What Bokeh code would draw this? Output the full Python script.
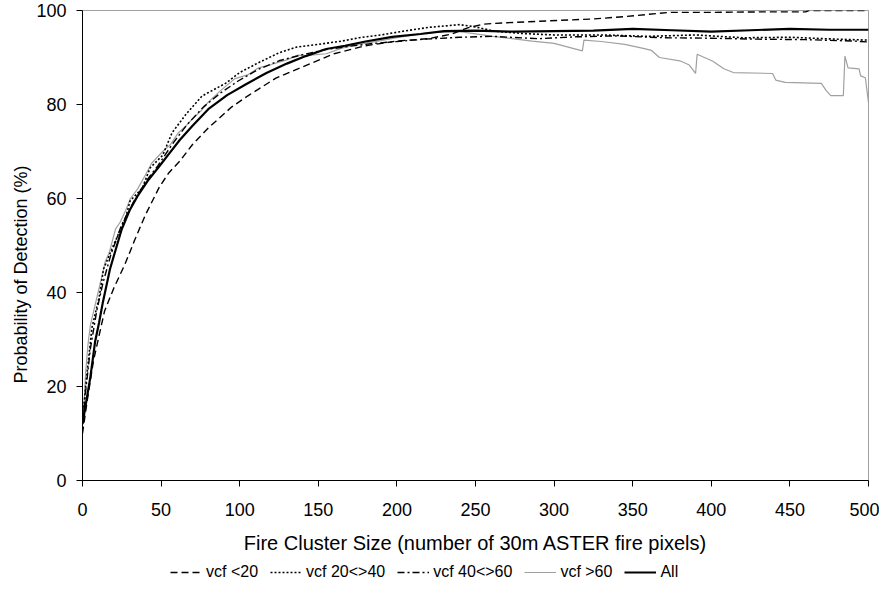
from bokeh.plotting import figure
from bokeh.models import Legend, LegendItem, Range1d, FixedTicker, Title
from bokeh.layouts import column
from bokeh.embed import file_html
from bokeh.resources import INLINE

# ---------------- data ----------------
x_ticks = [0, 50, 100, 150, 200, 250, 300, 350, 400, 450, 500]
y_ticks = [0, 20, 40, 60, 80, 100]

all_x = [0, 2, 5, 8, 10.5, 13, 17.5, 21, 25, 30, 35, 42, 48.5, 55, 62, 70, 80, 92, 104, 117,
         130, 142, 155, 167, 180, 197, 215, 230, 250, 275, 300, 325, 350, 375, 400, 425, 450, 475, 500]
all_y = [12, 16, 22, 29.5, 33.5, 38, 45, 49, 53.5, 57.5, 60.5, 64, 66.7, 69.5, 72.5, 75.5, 79, 82, 84.3, 86.7,
         88.7, 90.3, 91.8, 92.5, 93.4, 94.4, 95, 95.6, 95.7, 95.5, 95.6, 95.7, 96.1, 95.8, 95.5, 95.8, 96.1, 95.9, 95.9]

lt20_x = [0, 3, 7, 10, 14, 20, 27, 33, 40, 49, 55, 62, 70, 80, 95, 105, 123, 140, 160, 180, 200, 220,
          235, 245, 255, 270, 303, 325, 345, 373, 400, 430, 460, 462, 500]
lt20_y = [10, 17, 25.5, 30, 36, 41, 46, 51, 56.5, 62.5, 65.5, 68, 71.5, 75, 79.5, 81.8, 85.6, 88, 90.8, 92.5, 93.5, 94,
          95, 96.3, 97.1, 97.4, 97.9, 98.2, 98.7, 99.6, 99.6, 99.7, 99.7, 100, 100]

v2040_x = [0, 2, 6, 10.6, 13.4, 19, 27.4, 30.3, 38, 43, 51, 57, 66, 76, 91, 100, 112, 125, 136, 150, 165,
           176, 190, 204, 220, 240, 250, 262, 280, 300, 330, 360, 390, 420, 450, 480, 500]
v2040_y = [13, 20, 32.5, 39, 45, 49.5, 55.9, 59.5, 62.2, 66.5, 69.2, 74, 78, 81.8, 84.5, 86.8, 88.9, 91, 92.2, 92.8, 93.5,
           94.2, 94.8, 95.6, 96.4, 97, 96.5, 95.6, 95.1, 94.8, 94.8, 94.5, 94.8, 94.2, 94.3, 93.9, 93.7]

v4060_x = [0, 2, 5, 9, 13, 18, 25, 32, 40, 48, 57, 66, 77, 88, 99, 112, 125, 140, 155, 170, 185, 200,
           218, 240, 261, 290, 314, 340, 370, 400, 430, 460, 490, 500]
v4060_y = [12, 19, 28, 36, 42, 48, 54.5, 59, 63.5, 67, 71.5, 75.5, 79.5, 82.5, 85, 87.5, 89.3, 90.6, 91.7, 92.4, 93, 93.4,
           93.9, 94.3, 94.5, 94, 94.4, 94.6, 94.2, 94.1, 93.9, 93.8, 93.5, 93.3]

gt60_x = [0, 1, 2, 3.5, 5, 8.5, 12, 14.5, 17, 21, 24, 27.5, 30.5, 35, 40, 44, 51, 56, 61, 66, 70, 75, 80, 88,
          97, 105, 112, 120, 130, 137, 142, 155, 165, 175, 188, 200, 220, 240, 261, 286, 300, 318, 319, 330,
          345, 356, 362, 367, 380, 386, 390, 391, 401, 408, 414, 439, 441, 447, 470, 473, 476, 484, 485, 487,
          494, 495, 498, 500]
gt60_y = [12, 16, 23, 29, 33, 38, 43, 46.6, 48.5, 53.5, 55, 57.5, 60, 62, 65, 67.5, 70, 71.5, 74, 75.5, 77, 78.5, 80.5, 83,
          85.5, 86.3, 87.8, 88.5, 89.5, 90.5, 90.4, 90.8, 92, 92.8, 93.5, 94.2, 95.3, 95.5, 94.5, 93.5, 93, 91.4, 93.7, 93.4,
          92.8, 92, 91.5, 90, 89.3, 88.4, 86.6, 90.7, 89.2, 87.6, 86.8, 86.6, 85.2, 84.7, 84.5, 83.0, 81.9, 81.9, 90.3, 87.8,
          87.6, 86.1, 85.7, 80.4]

labels = ["vcf <20", "vcf 20<>40", "vcf 40<>60", "vcf >60", "All"]
x_title = "Fire Cluster Size (number of 30m ASTER fire pixels)"
y_title = "Probability of Detection (%)"

FONT = "Liberation Sans"
GRAY = "#a0a0a0"
styles = [dict(line_color="black", line_width=1.4, line_dash="7 4"),
          dict(line_color="black", line_width=1.6, line_dash="2 2"),
          dict(line_color="black", line_width=1.4, line_dash="7 3 2 3"),
          dict(line_color=GRAY, line_width=1.2),
          dict(line_color="black", line_width=2.2)]

# ---------------- main chart ----------------
p = figure(width=879, height=562, output_backend="svg", toolbar_location=None,
           x_range=Range1d(0, 500), y_range=Range1d(0, 100),
           min_border_left=82, min_border_right=11, min_border_top=10, min_border_bottom=82)
p.background_fill_color = "white"
p.border_fill_color = "white"
p.outline_line_color = GRAY
p.outline_line_width = 1
p.xgrid.visible = False
p.ygrid.visible = False

p.line(gt60_x, gt60_y, **styles[3])
p.line(lt20_x, lt20_y, **styles[0])
p.line(v2040_x, v2040_y, **styles[1])
p.line(v4060_x, v4060_y, **styles[2])
p.line(all_x, all_y, **styles[4])

for ax in (p.xaxis[0], p.yaxis[0]):
    ax.axis_line_color = "black"
    ax.axis_line_width = 1
    ax.major_tick_line_color = "black"
    ax.major_tick_out = 6
    ax.major_tick_in = 0
    ax.minor_tick_line_color = None
    ax.major_label_text_font = FONT
    ax.major_label_text_font_size = "18px"
    ax.major_label_text_color = "black"
    ax.axis_label_text_font = FONT
    ax.axis_label_text_font_size = "20px"
    ax.axis_label_text_font_style = "normal"
    ax.axis_label_text_color = "black"

p.xaxis.ticker = FixedTicker(ticks=x_ticks)
p.yaxis.ticker = FixedTicker(ticks=y_ticks)
p.xaxis.axis_label = x_title
p.xaxis.major_label_standoff = 16
p.xaxis.axis_label_standoff = 13
p.yaxis.major_label_standoff = 10

# y-axis title placed a little below the middle of the axis, as in the reference
p.add_layout(Title(text=y_title, align="left", offset=97, standoff=6,
                   text_font=FONT, text_font_size="18px", text_font_style="normal",
                   text_color="black"), "left")

# ---------------- legend strip below the chart ----------------
pl = figure(width=879, height=30, output_backend="svg", toolbar_location=None,
            x_range=Range1d(0, 1), y_range=Range1d(0, 1), min_border=0)
pl.axis.visible = False
pl.xgrid.visible = False
pl.ygrid.visible = False
pl.outline_line_color = None
pl.background_fill_color = "white"
pl.border_fill_color = "white"
# legend-only renderers: their points sit outside the visible range
leg_renderers = [pl.line([5, 6], [5, 6], **st) for st in styles]

legend = Legend(items=[LegendItem(label=lab, renderers=[r]) for lab, r in zip(labels, leg_renderers)],
                orientation="horizontal", location=(88, 10),
                border_line_color=None, background_fill_alpha=0,
                padding=0, margin=0, spacing=12, glyph_width=32, glyph_height=20,
                label_height=20, label_standoff=4,
                label_text_font=FONT, label_text_font_size="16px", label_text_color="black")
pl.add_layout(legend, "center")

layout = column(p, pl, spacing=0)
open("out.html", "w").write(file_html(layout, INLINE))
